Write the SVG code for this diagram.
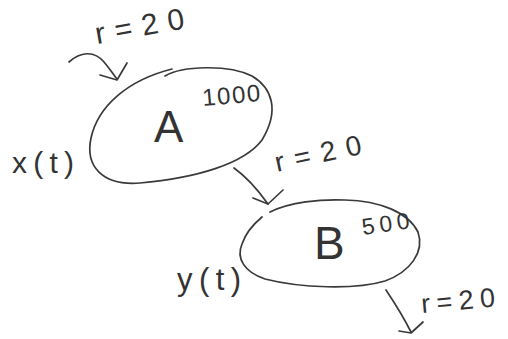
<svg xmlns="http://www.w3.org/2000/svg" width="508" height="339" viewBox="0 0 508 339">
<style>
.ink{fill:none;stroke:#3a3a3a;stroke-width:1.7;stroke-linecap:round;stroke-linejoin:round}
.t{font-family:"Liberation Sans","DejaVu Sans",sans-serif;fill:#333}
</style>
<rect width="508" height="339" fill="#fff"/>
<g id="node-A">
<path class="ink" d="M165 76 C182 66,228 64,252 76 C272 88,280 110,262 140 C244 164,196 178,140 183 C102 186,85 166,91 138 C98 106,128 80,172 69"/>
<text class="t" x="154" y="142" font-size="44">A</text>
<text class="t" x="203" y="106" font-size="24" textLength="58" transform="rotate(-5 203 106)">1000</text>
</g>
<g id="node-B">
<path class="ink" d="M270 212 C290 202,320 199,345 200 C380 201,408 212,418 232 C425 252,410 272,385 281 C355 290,300 288,265 279 C244 272,236 258,242 244 C246 232,256 222,262 217"/>
<text class="t" x="314" y="259" font-size="46">B</text>
<text class="t" x="363" y="235" font-size="23" textLength="48" transform="rotate(-8 363 235)">500</text>
</g>
<g id="connectors">
<path class="ink" d="M69 62 C80 52,94 50,104 62 C110 69,113 74,117 79"/>
<path class="ink" d="M100 75 L117 80 L127 63"/>
<path class="ink" d="M234 168 C248 178,258 190,268 204"/>
<path class="ink" d="M253 198 L268 204 L283 190"/>
<path class="ink" d="M386 290 C394 302,404 318,411 332"/>
<path class="ink" d="M399 331 L411 333 L423 322"/>
</g>
<g id="labels">
<text class="t" x="97" y="44" font-size="30" textLength="90" transform="rotate(-10 97 44)">r=20</text>
<text class="t" x="12" y="173" font-size="30" textLength="62">x(t)</text>
<text class="t" x="277" y="172" font-size="28" textLength="88" transform="rotate(-12 277 172)">r=20</text>
<text class="t" x="177" y="290" font-size="31" textLength="64">y(t)</text>
<text class="t" x="422" y="313" font-size="27" textLength="74" transform="rotate(-5 422 313)">r=20</text>
</g>
</svg>
